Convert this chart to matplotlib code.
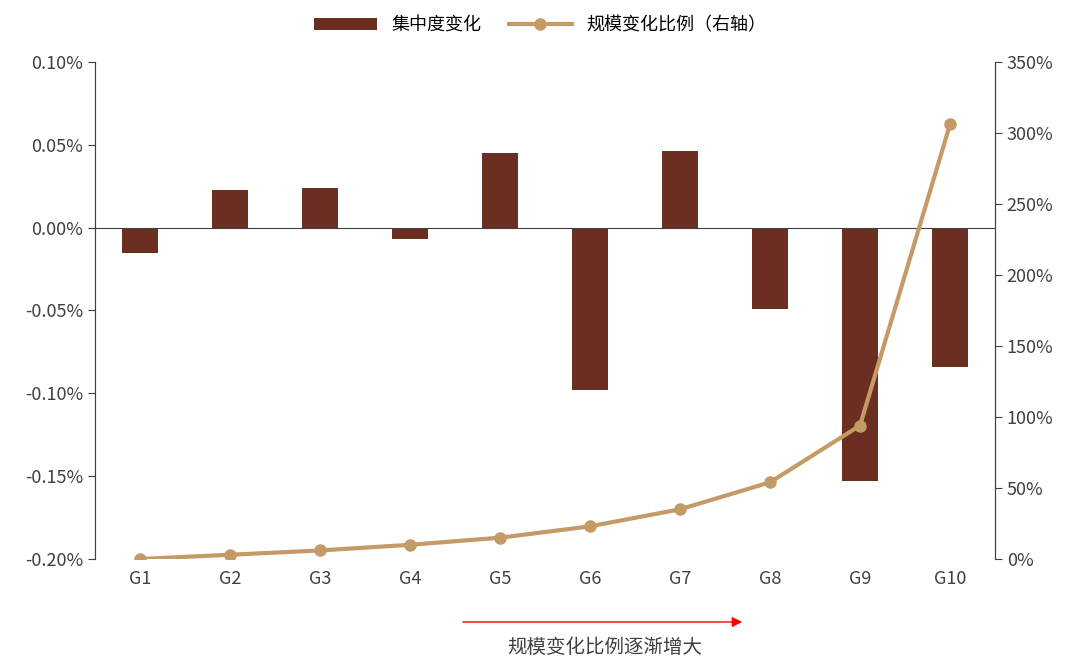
import matplotlib.pyplot as plt
from matplotlib.ticker import FuncFormatter

plt.rcParams['font.family'] = ['Noto Sans CJK SC', 'DejaVu Sans']

groups = ['G1', 'G2', 'G3', 'G4', 'G5', 'G6', 'G7', 'G8', 'G9', 'G10']
conc_change = [-0.015, 0.023, 0.024, -0.007, 0.045, -0.098, 0.0465, -0.049, -0.153, -0.084]  # %
scale_change = [0, 3, 6, 10, 15, 23, 35, 54, 94, 306]  # %

fig = plt.figure(figsize=(10.8, 6.65), dpi=100)
ax = fig.add_axes([95 / 1080, 1 - 559 / 665, 900 / 1080, 497 / 665])
ax2 = ax.twinx()

x = range(len(groups))
b = ax.bar(x, conc_change, width=0.4, color='#6B2F22', label='集中度变化')
ax.set_ylim(-0.20, 0.10)
ax.set_yticks([-0.20, -0.15, -0.10, -0.05, 0.0, 0.05, 0.10])
ax.yaxis.set_major_formatter(FuncFormatter(lambda v, p: f'{v:.2f}%'))
ax.axhline(0, color='#404040', lw=0.8)
ax.set_xlim(-0.5, 9.5)
ax.set_xticks(list(x))
ax.set_xticklabels(groups)
ax.tick_params(axis='x', length=0, pad=8)

l, = ax2.plot(x, scale_change, color='#C49A66', lw=3, marker='o', ms=8, label='规模变化比例（右轴）')
ax2.set_ylim(0, 350)
ax2.set_yticks(range(0, 351, 50))
ax2.yaxis.set_major_formatter(FuncFormatter(lambda v, p: f'{v:.0f}%'))

for a in (ax, ax2):
    a.spines['top'].set_visible(False)
    a.spines['bottom'].set_visible(False)
    a.spines['left'].set_color('#404040')
    a.spines['right'].set_color('#404040')
    a.tick_params(axis='y', direction='in', length=5, labelsize=13, colors='#404040', labelcolor='#404040')
ax.tick_params(axis='x', labelsize=13, labelcolor='#404040')
ax.tick_params(axis='y', direction='out', length=5)
ax2.tick_params(axis='y', direction='out', length=5)

fig.legend([b, l], ['集中度变化', '规模变化比例（右轴）'], loc='upper center',
           bbox_to_anchor=(0.5, 1.0), ncol=2, frameon=False, fontsize=13,
           handlelength=3.5, columnspacing=1.5)

fig.patches.append(plt.Arrow(0, 0, 0, 0))
ax.annotate('', xy=(745 / 1080, 1 - 622 / 665), xytext=(460 / 1080, 1 - 622 / 665),
            xycoords='figure fraction',
            arrowprops=dict(arrowstyle='-|>', color='red', lw=1, mutation_scale=15))
fig.text(605 / 1080, 1 - 647 / 665, '规模变化比例逐渐增大', ha='center', va='center',
         fontsize=14, color='#404040')

fig.savefig('out.png')
